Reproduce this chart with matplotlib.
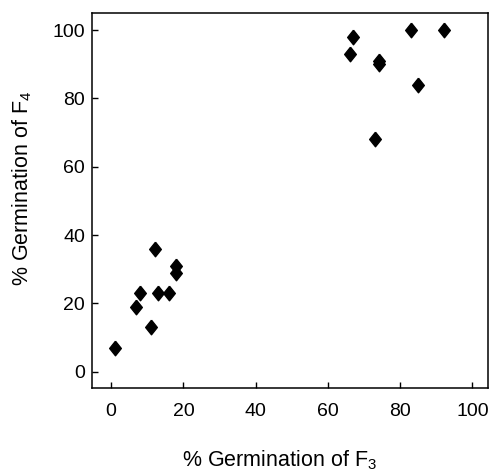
import matplotlib
matplotlib.use("Agg")
import matplotlib.pyplot as plt

germ_f3 = [1, 7, 8, 11, 12, 13, 16, 18, 18, 66, 67, 73, 74, 74, 83, 85, 92]
germ_f4 = [7, 19, 23, 13, 36, 23, 23, 31, 29, 93, 98, 68, 91, 90, 100, 84, 100]
ticks = [0, 20, 40, 60, 80, 100]

plt.rcParams['font.family'] = ['Liberation Sans', 'DejaVu Sans']
plt.rcParams['mathtext.fontset'] = 'custom'
plt.rcParams['mathtext.rm'] = 'Liberation Sans'

fig = plt.figure(figsize=(4.93, 4.71), dpi=100)
ax = fig.add_axes([0.1866, 0.1762, 0.8033, 0.7962])

diamond = [(0, 1), (0.8, 0), (0, -1), (-0.8, 0), (0, 1)]
ax.plot(germ_f3, germ_f4, linestyle='none', marker=diamond, markersize=10.5,
        color='black')

ax.set_xlim(-5.3, 104.3)
ax.set_ylim(-4.8, 105)
ax.set_xticks(ticks)
ax.set_yticks(ticks)
ax.tick_params(direction='in', length=4, width=1, labelsize=14)
ax.tick_params(axis='x', pad=11)
ax.tick_params(axis='y', pad=5)
for s in ax.spines.values():
    s.set_linewidth(1.1)

fig.text(0.566, 0.022, '% Germination of F$_\\mathregular{3}$', fontsize=15.5,
         ha='center', va='center')
fig.text(0.045, 0.60, '% Germination of F$_\\mathregular{4}$', fontsize=15.5,
         ha='center', va='center', rotation=90)

fig.savefig('out.png', dpi=100)
